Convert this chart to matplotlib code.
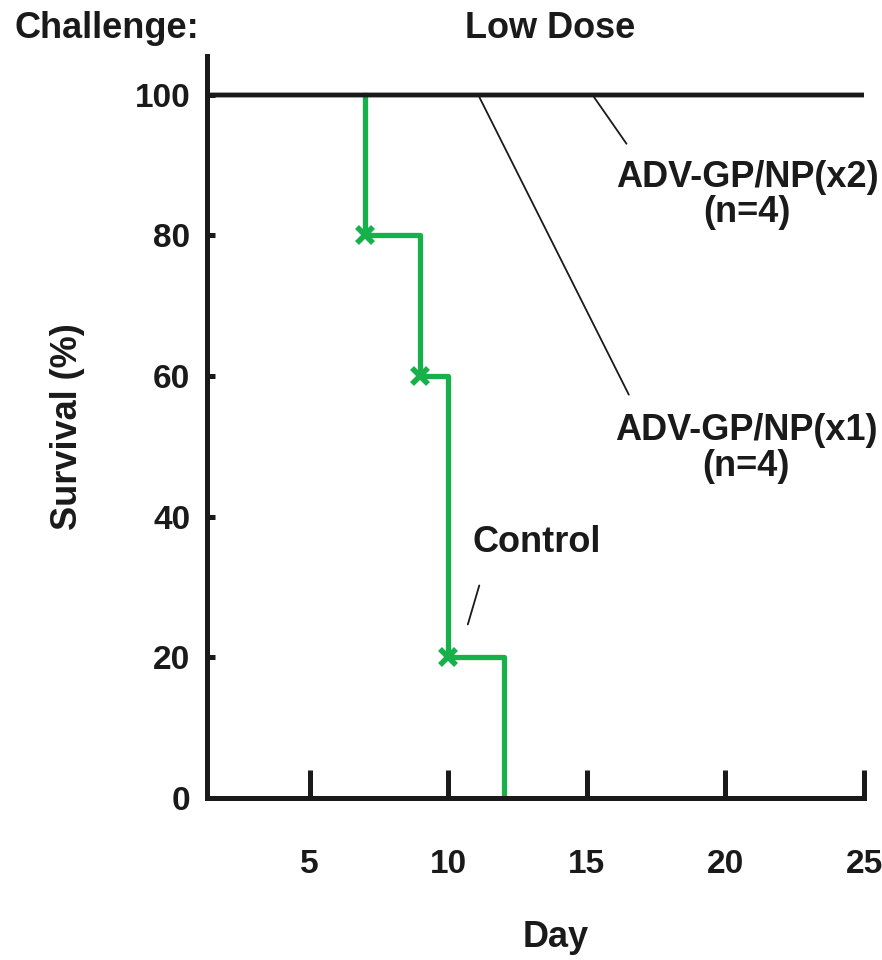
import matplotlib.pyplot as plt
import numpy as np

plt.rcParams['font.family'] = ['Liberation Sans', 'DejaVu Sans']
plt.rcParams['font.weight'] = 'bold'

# survival data (%)
ctrl_days = [7, 7, 9, 10, 12]
ctrl_surv = [100, 80, 60, 20, 0]
ctrl_mark_days = [7, 9, 10]
ctrl_mark_surv = [80, 60, 20]

vacc_days = [0, 25]
x1_surv = [100, 100]
x2_surv = [100, 100]

x_ticks = [5, 10, 15, 20, 25]
y_ticks = [0, 20, 40, 60, 80, 100]

green = '#17b14c'
tc = '#1a1a1a'
fs = 26      # labels / annotations
tfs = 24     # tick labels

fig = plt.figure(figsize=(8.82, 9.6), dpi=100)
ax = fig.add_axes([0.2347, 0.16875, 0.7449, 0.7729])

# control group
ax.step(ctrl_days, ctrl_surv, where='post', color=green, lw=3.8, zorder=2)
ax.plot(ctrl_mark_days, ctrl_mark_surv, linestyle='none', marker='x',
        color=green, markersize=11, markeredgewidth=4, zorder=3)

# vaccinated groups
ax.plot(vacc_days, x1_surv, color=tc, lw=3.2, zorder=4)
ax.plot(vacc_days, x2_surv, color=tc, lw=3.2, zorder=4)

ax.set_xlim(1.3, 25)
ax.set_ylim(0, 105.5)

for s in ['top', 'right']:
    ax.spines[s].set_visible(False)
for s in ['left', 'bottom']:
    ax.spines[s].set_linewidth(3.6)
    ax.spines[s].set_color(tc)

ax.set_xticks(x_ticks)
ax.set_yticks(y_ticks)
ax.tick_params(axis='x', direction='in', length=20, width=3.6, pad=37,
               labelsize=tfs, colors=tc)
ax.tick_params(axis='y', direction='in', length=6, width=3.6, pad=12,
               labelsize=tfs, colors=tc)
for lab in ax.get_xticklabels() + ax.get_yticklabels():
    lab.set_fontweight('bold')

ax.set_xlabel('Day', fontsize=fs, fontweight='bold', color=tc)
ax.xaxis.set_label_coords(0.53, -0.165)
ax.set_ylabel('Survival (%)', fontsize=fs, fontweight='bold', color=tc)
ax.yaxis.set_label_coords(-0.185, 0.5)

# annotations
ax.annotate('', xy=(15.2, 100), xytext=(16.49, 92.7),
            arrowprops=dict(arrowstyle='-', color=tc, lw=1.3))
ax.text(20.78, 88.2, 'ADV-GP/NP(x2)', ha='center', va='center', fontsize=fs, color=tc)
ax.text(20.78, 83.3, '(n=4)', ha='center', va='center', fontsize=fs, color=tc)

ax.annotate('', xy=(11.08, 100), xytext=(16.56, 57.0),
            arrowprops=dict(arrowstyle='-', color=tc, lw=1.3))
ax.text(20.74, 52.3, 'ADV-GP/NP(x1)', ha='center', va='center', fontsize=fs, color=tc)
ax.text(20.74, 47.1, '(n=4)', ha='center', va='center', fontsize=fs, color=tc)

ax.annotate('', xy=(10.68, 24.3), xytext=(11.15, 30.6),
            arrowprops=dict(arrowstyle='-', color=tc, lw=1.3))
ax.text(13.2, 36.3, 'Control', ha='center', va='center', fontsize=fs, color=tc)

fig.text(14 / 882, 1 - 29 / 960, 'Challenge:', ha='left', va='center',
         fontsize=fs, fontweight='bold', color=tc)
fig.text(550 / 882, 1 - 29 / 960, 'Low Dose', ha='center', va='center',
         fontsize=fs, fontweight='bold', color=tc)

fig.savefig('out.png', dpi=100)
